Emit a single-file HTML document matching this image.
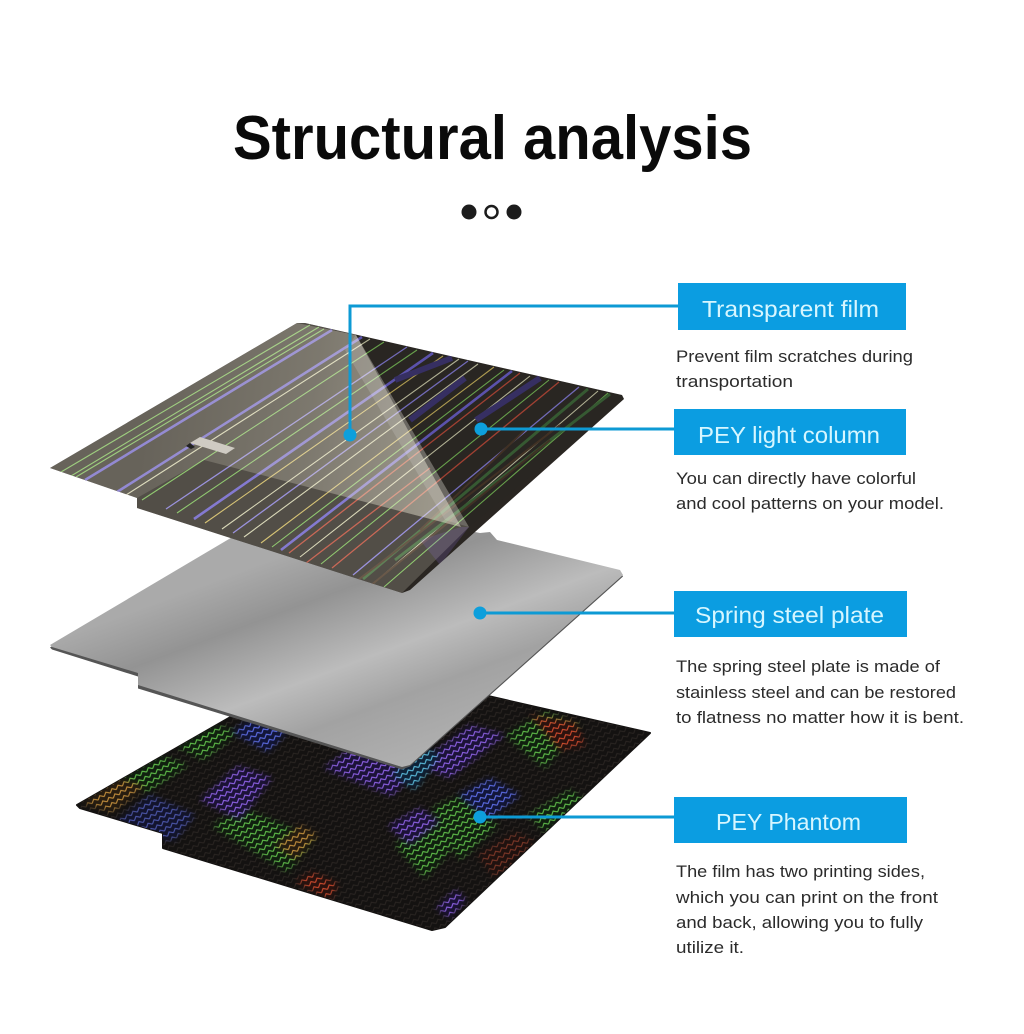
<!DOCTYPE html>
<html><head><meta charset="utf-8"><style>html,body{margin:0;padding:0;background:#fff}svg{display:block}
text{font-family:"Liberation Sans",sans-serif}
.b{fill:#2b2b2b;font-size:17px}.l{fill:#d6f6ff;font-size:23px}</style></head><body>
<svg xmlns="http://www.w3.org/2000/svg" width="1024" height="1034" viewBox="0 0 1024 1034">
<defs>
<linearGradient id="steel" gradientUnits="userSpaceOnUse" x1="214" y1="581" x2="298" y2="807">
<stop offset="0" stop-color="#aaa"/><stop offset=".22" stop-color="#939393"/><stop offset=".52" stop-color="#bcbcbc"/><stop offset=".72" stop-color="#a2a2a2"/><stop offset="1" stop-color="#b0b0b0"/></linearGradient>
<linearGradient id="fg" gradientUnits="userSpaceOnUse" x1="150" y1="400" x2="440" y2="440">
<stop offset="0" stop-color="#f5f0dc" stop-opacity=".13"/><stop offset=".55" stop-color="#f5f0dc" stop-opacity=".26"/><stop offset="1" stop-color="#f5f0dc" stop-opacity=".45"/></linearGradient>
<pattern id="pw" width="7" height="6" patternUnits="userSpaceOnUse" patternTransform="rotate(-30)"><path d="M0 4L3.500 1L7 4" fill="none" stroke="#2a2522" stroke-width="1"/></pattern>
<pattern id="pg" width="7" height="6" patternUnits="userSpaceOnUse" patternTransform="rotate(-30)"><rect width="7" height="6" fill="#10200f"/><path d="M0 4L3.500 1L7 4" fill="none" stroke="#62c44c" stroke-width="1.100"/></pattern>
<pattern id="pb" width="7" height="6" patternUnits="userSpaceOnUse" patternTransform="rotate(-30)"><rect width="7" height="6" fill="#12163a"/><path d="M0 4L3.500 1L7 4" fill="none" stroke="#5f70ec" stroke-width="1.100"/></pattern>
<pattern id="pp" width="7" height="6" patternUnits="userSpaceOnUse" patternTransform="rotate(-30)"><rect width="7" height="6" fill="#1c1338"/><path d="M0 4L3.500 1L7 4" fill="none" stroke="#9264ec" stroke-width="1.100"/></pattern>
<pattern id="pr" width="7" height="6" patternUnits="userSpaceOnUse" patternTransform="rotate(-30)"><rect width="7" height="6" fill="#2c120e"/><path d="M0 4L3.500 1L7 4" fill="none" stroke="#d44c2e" stroke-width="1.100"/></pattern>
<pattern id="po" width="7" height="6" patternUnits="userSpaceOnUse" patternTransform="rotate(-30)"><rect width="7" height="6" fill="#281d10"/><path d="M0 4L3.500 1L7 4" fill="none" stroke="#c8923e" stroke-width="1.100"/></pattern>
<pattern id="pc" width="7" height="6" patternUnits="userSpaceOnUse" patternTransform="rotate(-30)"><rect width="7" height="6" fill="#0e2238"/><path d="M0 4L3.500 1L7 4" fill="none" stroke="#5cc0e0" stroke-width="1.100"/></pattern>
<filter id="soft" x="-10%" y="-10%" width="120%" height="120%"><feGaussianBlur stdDeviation="3"/></filter>
<filter id="s2" x="-5%" y="-5%" width="110%" height="110%"><feGaussianBlur stdDeviation=".35"/></filter>
<clipPath id="c3"><polygon points="77,805 330,660 650,733 445,927 432,930 163,848 163,833 80,808"/></clipPath>
<clipPath id="c1"><polygon points="50,468 297,323 305,323 622,395 624,399 410,590 402,593 137,508 137,498"/></clipPath>
<mask id="mg" maskUnits="userSpaceOnUse" x="60" y="650" width="600" height="290"><g fill="#fff" filter="url(#soft)">
<polygon points="118,780 158,755 188,765 148,792"/><polygon points="174,745 212,724 238,732 204,760"/><polygon points="212,826 242,808 314,838 288,872"/><polygon points="505,735 545,712 580,725 545,768"/><polygon points="432,808 462,795 498,825 460,860"/><polygon points="395,845 430,815 462,838 425,878"/><polygon points="528,815 570,790 585,800 545,832"/></g></mask>
<mask id="mb" maskUnits="userSpaceOnUse" x="60" y="650" width="600" height="290"><g fill="#fff" filter="url(#soft)">
<polygon points="232,732 262,712 296,722 268,752"/><polygon points="458,795 490,778 520,795 488,820"/><polygon points="100,835 150,795 195,815 175,840" opacity=".7"/></g></mask>
<mask id="mp" maskUnits="userSpaceOnUse" x="60" y="650" width="600" height="290"><g fill="#fff" filter="url(#soft)">
<polygon points="200,800 238,766 272,778 240,820"/><polygon points="324,768 360,742 424,762 392,796"/><polygon points="418,765 470,725 505,735 450,778"/><polygon points="388,826 420,808 440,822 410,845"/><polygon points="436,908 456,890 466,900 450,918"/></g></mask>
<mask id="mr" maskUnits="userSpaceOnUse" x="60" y="650" width="600" height="290"><g fill="#fff" filter="url(#soft)">
<polygon points="296,882 312,872 338,884 330,900"/><polygon points="530,715 575,722 585,745 560,750"/><polygon points="478,855 515,832 535,842 495,878" opacity=".5"/></g></mask>
<mask id="mo" maskUnits="userSpaceOnUse" x="60" y="650" width="600" height="290"><g fill="#fff" filter="url(#soft)">
<polygon points="83,803 118,778 145,786 112,812"/><polygon points="275,845 300,825 318,835 296,860"/></g></mask>
<mask id="mc" maskUnits="userSpaceOnUse" x="60" y="650" width="600" height="290"><g fill="#fff" filter="url(#soft)">
<polygon points="392,775 420,745 440,755 415,790"/></g></mask>
</defs>
<rect width="1024" height="1034" fill="#fff"/>

<text x="233" y="159" font-size="62" font-weight="700" fill="#0a0a0a" textLength="519" lengthAdjust="spacingAndGlyphs">Structural analysis</text>
<circle cx="469" cy="212" r="7.500" fill="#1c1c1c"/>
<circle cx="491.500" cy="212" r="6" fill="#fff" stroke="#1c1c1c" stroke-width="2.500"/>
<circle cx="514" cy="212" r="7.500" fill="#1c1c1c"/>

<!-- bottom sheet -->
<polygon points="77,805 330,660 650,733 445,927 432,930 163,848 163,833 80,808" fill="#141211" stroke="#141211" stroke-width="2" stroke-linejoin="round"/>
<g clip-path="url(#c3)">
<rect x="60" y="650" width="600" height="290" fill="url(#pw)"/>
<rect x="60" y="650" width="600" height="290" fill="url(#pg)" mask="url(#mg)"/>
<rect x="60" y="650" width="600" height="290" fill="url(#pb)" mask="url(#mb)"/>
<rect x="60" y="650" width="600" height="290" fill="url(#pp)" mask="url(#mp)"/>
<rect x="60" y="650" width="600" height="290" fill="url(#pr)" mask="url(#mr)"/>
<rect x="60" y="650" width="600" height="290" fill="url(#po)" mask="url(#mo)"/>
<rect x="60" y="650" width="600" height="290" fill="url(#pc)" mask="url(#mc)"/>
</g>

<!-- steel plate -->
<polygon points="50,646 300,497 480,533 490,532 497,540 620,570 623,575 410,765 402,768 138,687 138,675 52,648" fill="#555" transform="translate(0,1.500)"/>
<polygon points="50,645 300,497 480,533 490,532 497,540 620,570 623,575 410,765 402,767 138,685 138,673 52,647" fill="url(#steel)"/>

<!-- top sheet -->
<polygon points="50,468 297,323 305,323 622,395 624,399 410,590 402,593 137,508 137,498" fill="#2a2622"/>
<g clip-path="url(#c1)">
<g fill="none" filter="url(#s2)" opacity=".95">
<path stroke="#7cc85a" stroke-width="1.100" d="M61 472L310 325M71 476L319 327M76 477L324 329M142 500L384 342M177 513L417 350M272 547L504 370M321 564L549 380M384 587L608 393"/>
<path stroke="#6c60d8" stroke-width="2.600" d="M85 480L332 330M117 492L362 337M194 519L433 353M281 550L512 371"/>
<path stroke="#8a80e8" stroke-width="1.300" d="M166 509L407 347M233 533L468 361M353 575L579 387"/>
<path stroke="#dcdcb8" stroke-width="1.100" d="M126 495L370 339M222 529L459 359M244 537L478 364M300 557L530 376M374 583L598 391"/>
<path stroke="#d8c060" stroke-width="1.100" d="M205 523L443 356M261 543L494 367"/>
<path stroke="#c84a38" stroke-width="1.300" d="M289 553L520 373M332 568L559 382M297 570L430 468"/>
<path stroke="#3a6a38" stroke-width="3" d="M363 579L588 389M395 560L610 394"/>
<path stroke="#3a3078" stroke-width="6" d="M395 380L452 358M410 420L465 378M476 420L540 378"/>
<path stroke="#4a3428" stroke-width="2" d="M345 590L560 425M365 590L550 440M420 530L525 430"/>
</g>
<!-- dim the unfilmed half -->
<polygon points="356,335 622,395 624,399 469,527" fill="#2a2622" opacity=".2"/>
<!-- film -->
<polygon points="50,468 297,323 305,323 356,335 469,527 402,593 137,508 137,498" fill="#f5f0dc" opacity=".2"/>
<polygon points="50,468 297,323 356,335 461,527 204,460 137,498" fill="url(#fg)"/>
<polygon points="356,335 469,527 445,520 345,350" fill="#fff" opacity=".14"/>
<polygon points="461,527 469,527 440,565 420,540" fill="#8a70d8" opacity=".2"/>
<polygon points="190,443 200,437 235,448 226,454" fill="#cfcbc3"/>
<polygon points="186,446 190,443 195,447 191,449" fill="#222"/>
</g>

<!-- connectors -->
<g fill="none" stroke="#0d9ad4" stroke-width="3">
<path d="M350 435V306H678"/>
<path d="M481 429H674"/>
<path d="M480 613H674"/>
<path d="M480 817H674"/>
</g>
<circle cx="350" cy="435" r="6.500" fill="#0d9fdc"/>
<circle cx="481" cy="429" r="6.500" fill="#0d9fdc"/>
<circle cx="480" cy="613" r="6.500" fill="#0d9fdc"/>
<circle cx="480" cy="817" r="6.500" fill="#0d9fdc"/>

<!-- labels -->
<rect x="678" y="283" width="228" height="47" fill="#0b9de1"/>
<rect x="674" y="409" width="232" height="46" fill="#0b9de1"/>
<rect x="674" y="591" width="233" height="46" fill="#0b9de1"/>
<rect x="674" y="797" width="233" height="46" fill="#0b9de1"/>
<text class="l" x="702" y="317" textLength="177" lengthAdjust="spacingAndGlyphs">Transparent film</text>
<text class="l" x="698" y="443" textLength="182" lengthAdjust="spacingAndGlyphs">PEY light column</text>
<text class="l" x="695" y="623" textLength="189" lengthAdjust="spacingAndGlyphs">Spring steel plate</text>
<text class="l" x="716" y="830" textLength="145" lengthAdjust="spacingAndGlyphs">PEY Phantom</text>

<text class="b" x="676" y="362" textLength="237" lengthAdjust="spacingAndGlyphs">Prevent film scratches during</text>
<text class="b" x="676" y="387" textLength="117" lengthAdjust="spacingAndGlyphs">transportation</text>
<text class="b" x="676" y="484" textLength="240" lengthAdjust="spacingAndGlyphs">You can directly have colorful</text>
<text class="b" x="676" y="509" textLength="268" lengthAdjust="spacingAndGlyphs">and cool patterns on your model.</text>
<text class="b" x="676" y="672" textLength="264" lengthAdjust="spacingAndGlyphs">The spring steel plate is made of</text>
<text class="b" x="676" y="698" textLength="280" lengthAdjust="spacingAndGlyphs">stainless steel and can be restored</text>
<text class="b" x="676" y="723" textLength="288" lengthAdjust="spacingAndGlyphs">to flatness no matter how it is bent.</text>
<text class="b" x="676" y="877" textLength="249" lengthAdjust="spacingAndGlyphs">The film has two printing sides,</text>
<text class="b" x="676" y="903" textLength="262" lengthAdjust="spacingAndGlyphs">which you can print on the front</text>
<text class="b" x="676" y="928" textLength="247" lengthAdjust="spacingAndGlyphs">and back, allowing you to fully</text>
<text class="b" x="676" y="953" textLength="68" lengthAdjust="spacingAndGlyphs">utilize it.</text>
</svg>
</body></html>
